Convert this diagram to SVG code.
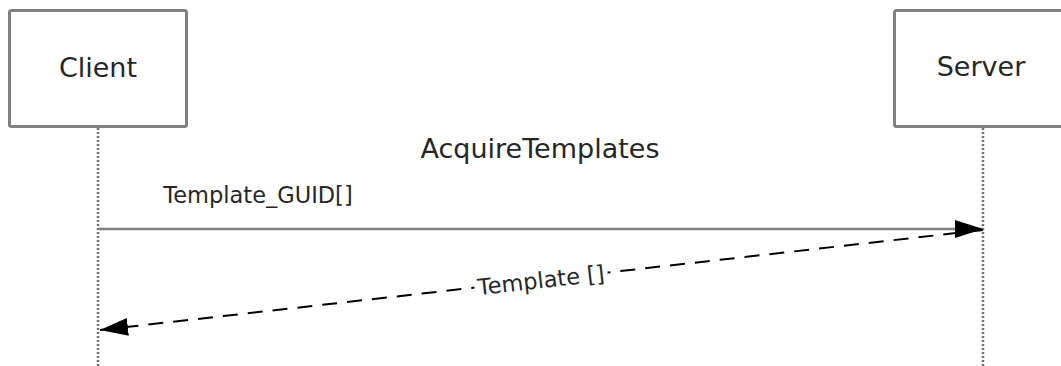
<svg xmlns="http://www.w3.org/2000/svg" width="1061" height="366" viewBox="0 0 1061 366">
<style>
.box{fill:#fff;stroke:#808080;stroke-width:3}
.life{stroke:#707070;stroke-width:2.5;stroke-dasharray:2 2;fill:none}
.t{font-family:"DejaVu Sans",Verdana,sans-serif;fill:#262626}
.big{font-size:27px}
.lbl{font-size:22.5px}
</style>
<defs>
<marker id="ah" markerUnits="userSpaceOnUse" markerWidth="30" markerHeight="20" refX="28" refY="9" orient="auto">
<path d="M0,0 L28,9 L0,18 Z" fill="#000"/>
</marker>
</defs>
<rect width="1061" height="366" fill="#fff"/>
<g id="lifelines">
<line class="life" x1="98" y1="128" x2="98" y2="366"/>
<line class="life" x1="983" y1="128" x2="983" y2="366"/>
</g>
<g id="client">
<rect class="box" x="9.5" y="10.5" width="177" height="116" rx="2"/>
<text class="t big" x="98" y="77" text-anchor="middle">Client</text>
</g>
<g id="server">
<rect class="box" x="894.5" y="10.5" width="177" height="116" rx="2"/>
<text class="t big" x="981" y="76" text-anchor="middle">Server</text>
</g>
<g id="connectors">
<line x1="98" y1="229" x2="983" y2="229" stroke="#808080" stroke-width="2.5" marker-end="url(#ah)"/>
<line x1="983" y1="230" x2="100" y2="330" stroke="#000" stroke-width="2" stroke-dasharray="15 10" marker-end="url(#ah)"/>
</g>
<g id="labels">
<text class="t big" x="540" y="158" text-anchor="middle">AcquireTemplates</text>
<text class="t lbl" x="258" y="203" text-anchor="middle">Template_GUID[]</text>
<g transform="translate(542,280) rotate(-6.46)">
<rect x="-68" y="-14" width="134" height="26" fill="#fff"/>
<text class="t lbl" x="-1" y="8" text-anchor="middle">Template []</text>
</g>
</g>
</svg>
